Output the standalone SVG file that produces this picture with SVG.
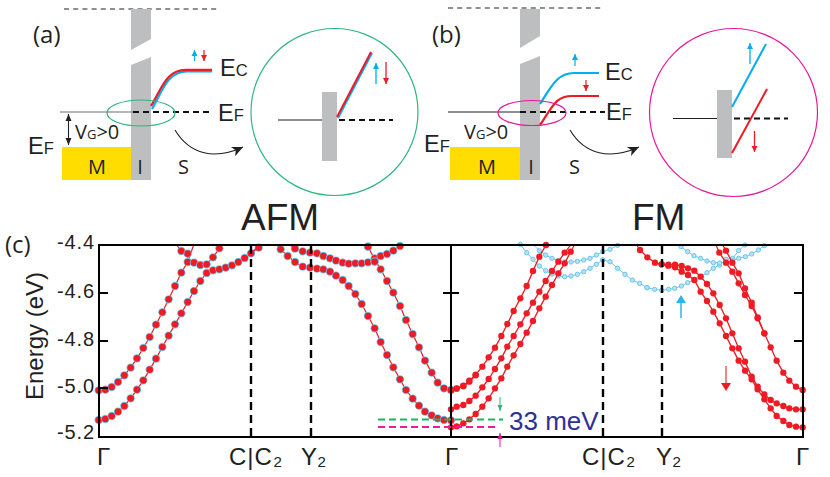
<svg xmlns="http://www.w3.org/2000/svg" width="830" height="477" viewBox="0 0 830 477">
<style>
text{font-family:"Liberation Sans",Arial,sans-serif;fill:#231f20}
.op{font-family:"Open Sans","Liberation Sans",sans-serif}
.lab{font-size:23.500px}
.sm{font-size:16.500px}
.bar{fill:#bcbec0}
.gold{fill:#ffdd00}
.thin{stroke:#231f20;stroke-width:1.100;fill:none}
.dash{stroke:#111;stroke-width:2;stroke-dasharray:6 4;fill:none}
.top{stroke:#231f20;stroke-width:1.100;stroke-dasharray:5 4.200;fill:none}
.blue{stroke:#00aeef;fill:none}
.red{stroke:#ed1c24;fill:none}
.g{stroke:#2fb67c;fill:none;stroke-width:1.200}
.m{stroke:#e6189b;fill:none;stroke-width:1.200}
.afm{fill:none;stroke:#ed1c24;stroke-width:3.600;marker-start:url(#da);marker-mid:url(#da);marker-end:url(#da)}
.fmr{fill:none;stroke:#ed1c24;stroke-width:4;marker-start:url(#dr);marker-mid:url(#dr);marker-end:url(#dr)}
.fmb{fill:none;stroke:#6cc5ec;stroke-width:3;marker-start:url(#db);marker-mid:url(#db);marker-end:url(#db)}
.ln{fill:none;stroke:#ed1c24;stroke-width:3.600}
.tick{font-size:20px;text-anchor:end;letter-spacing:.9px}
.kp{font-size:24px}
.frame{fill:none;stroke:#000;stroke-width:2}
.vd{stroke:#000;stroke-width:2.400;stroke-dasharray:8 5;fill:none}
</style>
<defs>
<marker id="da" markerUnits="userSpaceOnUse" markerWidth="30" markerHeight="30" refX="15" refY="15"><circle cx="15" cy="15" r="12.500" fill="#6cc5ec"/><circle cx="15" cy="15" r="10" fill="#ed1c24"/></marker>
<marker id="dr" markerUnits="userSpaceOnUse" markerWidth="30" markerHeight="30" refX="15" refY="15"><circle cx="15" cy="15" r="9.500" fill="#ed1c24"/></marker>
<marker id="db" markerUnits="userSpaceOnUse" markerWidth="30" markerHeight="30" refX="15" refY="15"><circle cx="15" cy="15" r="6.500" fill="#b5e2f5" stroke="#6cc5ec" stroke-width="3"/></marker>
<marker id="ac" markerUnits="userSpaceOnUse" markerWidth="10" markerHeight="10" refX="6" refY="3" orient="auto" overflow="visible"><path d="M0,0L6,3L0,6z" fill="#00aeef"/></marker>
<marker id="ar" markerUnits="userSpaceOnUse" markerWidth="10" markerHeight="10" refX="6" refY="3" orient="auto" overflow="visible"><path d="M0,0L6,3L0,6z" fill="#ed1c24"/></marker>
<marker id="ag" markerUnits="userSpaceOnUse" markerWidth="10" markerHeight="10" refX="6" refY="2.500" orient="auto" overflow="visible"><path d="M0,0L6,2.500L0,5z" fill="#2fb67c"/></marker>
<marker id="am" markerUnits="userSpaceOnUse" markerWidth="10" markerHeight="10" refX="6" refY="2.500" orient="auto" overflow="visible"><path d="M0,0L6,2.500L0,5z" fill="#e6189b"/></marker>
<marker id="ak" markerUnits="userSpaceOnUse" markerWidth="12" markerHeight="12" refX="7" refY="3" orient="auto" overflow="visible"><path d="M0,0L7,3L0,6z" fill="#231f20"/></marker>
<marker id="ak2" markerUnits="userSpaceOnUse" markerWidth="12" markerHeight="12" refX="0" refY="3" orient="auto" overflow="visible"><path d="M7,0L0,3L7,6z" fill="#231f20"/></marker>
<marker id="ah" markerUnits="userSpaceOnUse" markerWidth="14" markerHeight="14" refX="11" refY="5" orient="auto" overflow="visible"><path d="M0,0L11,5L0,10L3,5z" fill="#231f20"/></marker>
</defs>

<g id="panel-a">
<path class="top" d="M64,9H218"/>
<path class="bar" d="M131,9H151V39L131,50zM131,65L151,57V180H131z"/>
<rect class="gold" x="62" y="147" width="69" height="33"/>
<path d="M60,112H133" stroke="#6d6e71" stroke-width="1.200" fill="none"/>
<path class="dash" d="M133,112H213"/>
<path d="M68.500,114V145" class="thin" marker-start="url(#ak2)" marker-end="url(#ak)"/>
<path class="blue" stroke-width="2.200" d="M152,109C163,90 167,72 187,71.500H212"/>
<path class="red" stroke-width="2.200" d="M151,106C162,88 166,70 186,69.800H212"/>
<path class="blue" stroke-width="1.200" d="M194.500,61V50" marker-end="url(#ac)"/>
<path class="red" stroke-width="1.200" d="M204,50V61" marker-end="url(#ar)"/>
<ellipse class="g" cx="141" cy="113" rx="34" ry="13"/>
<path class="thin" d="M175,130C190,155 215,160 243,147" marker-end="url(#ah)"/>
<text class="op" x="33" y="43" font-size="24">(a)</text>
<text class="lab" x="220" y="76">E<tspan class="sm">C</tspan></text>
<text class="lab" x="218" y="121">E<tspan class="sm">F</tspan></text>
<text class="lab" x="28" y="154">E<tspan class="sm">F</tspan></text>
<text class="op" x="75" y="139" font-size="20">V<tspan font-size="13">G</tspan>&gt;0</text>
<text class="op" x="88" y="174" font-size="20">M</text>
<text class="op" x="140" y="174" font-size="20" text-anchor="middle">I</text>
<text class="op" x="178" y="174" font-size="20">S</text>
</g>
<g id="inset-a">
<circle class="g" cx="334.500" cy="112" r="83.500"/>
<rect class="bar" x="322" y="92" width="15" height="69"/>
<path class="thin" d="M278,120H322"/>
<path class="dash" d="M339,120H393"/>
<path class="blue" stroke-width="2" d="M338,118L372,53"/>
<path class="red" stroke-width="2" d="M337,117L371,52"/>
<path class="blue" stroke-width="1.300" d="M376,84V63" marker-end="url(#ac)"/>
<path class="red" stroke-width="1.300" d="M386,62V84" marker-end="url(#ar)"/>
</g>

<g id="panel-b">
<path class="top" d="M448,8H603"/>
<path class="bar" d="M520,9H540V36L520,48zM520,64L540,56V180H520z"/>
<rect class="gold" x="450" y="147" width="70" height="33"/>
<path class="thin" d="M448,112H520"/>
<path class="dash" d="M520,112H605"/>
<path class="blue" stroke-width="2.200" d="M540,104C552,85 558,73 574,73H599"/>
<path class="red" stroke-width="2.200" d="M540,125C552,108 555,96 572,96H599"/>
<path class="blue" stroke-width="1.200" d="M575,66V54" marker-end="url(#ac)"/>
<path class="red" stroke-width="1.200" d="M586,80V91" marker-end="url(#ar)"/>
<ellipse class="m" cx="532" cy="113" rx="34" ry="12.500"/>
<path class="thin" d="M570,130C585,155 610,160 639,147" marker-end="url(#ah)"/>
<text class="op" x="432" y="43" font-size="24">(b)</text>
<text class="lab" x="605" y="80">E<tspan class="sm">C</tspan></text>
<text class="lab" x="606" y="120">E<tspan class="sm">F</tspan></text>
<text class="lab" x="424" y="152">E<tspan class="sm">F</tspan></text>
<text class="op" x="464" y="139" font-size="20">V<tspan font-size="13">G</tspan>&gt;0</text>
<text class="op" x="478" y="174" font-size="20">M</text>
<text class="op" x="531" y="174" font-size="20" text-anchor="middle">I</text>
<text class="op" x="569" y="174" font-size="20">S</text>
</g>
<g id="inset-b">
<circle class="m" cx="733.500" cy="112.500" r="84"/>
<rect class="bar" x="717" y="90" width="15" height="68"/>
<path class="thin" d="M673,118.500H717"/>
<path class="dash" d="M734,118.500H788"/>
<path class="blue" stroke-width="2" d="M732,107L766,44"/>
<path class="red" stroke-width="2" d="M732,153L767,89"/>
<path class="blue" stroke-width="1.300" d="M750,64V43" marker-end="url(#ac)"/>
<path class="red" stroke-width="1.300" d="M754.500,131V152" marker-end="url(#ar)"/>
</g>

<g id="titles">
<text x="241" y="230" font-size="37">AFM</text>
<text x="632" y="230" font-size="37">FM</text>
<text class="op" x="5" y="253" font-size="24">(c)</text>
</g>

<g id="afm-bands">
<g transform="translate(0,200) scale(.33333)">
<polyline class="ln" points="530,135 544,153"/>
<polyline class="ln" points="563,161 563,186 581,135"/>
<polyline class="afm" points="296,571 316,569 335,561 354,546 373,526 392,503 411,475 430,444 449,411 468,374 487,337 506,298 525,258 544,218 563,186 582,188 601,195 620,193 639,172 658,145"/>
<polyline class="afm" points="296,660 316,657 335,648 354,635 373,618 392,595 411,569 430,541 449,509 468,476 487,441 506,407 525,373 544,340 563,306 582,273 601,243 620,219 639,211 658,208 677,203 696,196 715,186 734,174 753,160 776,143"/>
<polyline class="afm" points="544,153 563,161"/>
</g>
<g transform="translate(250,230) scale(.33333)">
<polyline class="ln" points="26,50 0,70"/>
<polyline class="ln" points="80,45 92,58"/>
<polyline class="ln" points="120,45 135,56"/>
<polyline class="ln" points="354,50 374,88 392,118"/>
<polyline class="afm" points="92,58 113,78 135,96 158,110 180,113 201,116 220,118 240,125 258,137 278,150 296,168 316,192 335,222 354,258 374,295 392,336 411,375 430,412 450,448 468,480 488,506 507,527 525,545 545,556 563,565 582,570 603,571"/>
<polyline class="afm" points="135,56 158,64 180,68 201,70 220,78 240,85 258,92 278,98 296,101 316,100 335,100 354,97 374,85 392,78 411,72 430,62 450,48"/>
<polyline class="afm" points="392,118 411,153 430,188 450,228 468,270 488,312 507,352 525,392 545,428 563,458 582,475 603,480"/>
<polyline class="afm" points="354,50 354,50"/>
<polyline class="afm" points="374,95 374,95"/>
</g>
</g>

<g id="fm-bands">
<g transform="translate(440,230) scale(.33333)">
<polyline class="fmb" points="241,43 260,68 279,88 298,108 317,122 336,132 355,138 374,140 393,138 412,133 431,125 450,115 469,103 488,90"/>
<polyline class="fmb" points="298,62 317,75 336,85 355,92 374,96 393,96 412,94 431,90 450,85 469,75 488,65 510,58 533,46"/>
<polyline class="fmb" points="488,90 510,95 533,115 555,133 577,150 599,160 621,173"/>
<polyline points="281,45 298,62" fill="none" stroke="#6cc5ec" stroke-width="3"/>
<polyline class="fmr" points="33,480 50,475 70,467 88,452 107,434 127,410 146,382 165,353 184,318 202,282 221,243 241,205 260,168 279,123 298,80 318,45"/>
<polyline class="fmr" points="33,480 50,476 70,469 88,455 107,436"/>
<polyline class="fmr" points="33,538 50,530 70,525 88,513 107,497 127,472 146,447 165,417 184,385 202,350 221,318 241,283 260,250 279,218 298,185 317,153 336,123 355,95 374,68"/>
<polyline class="ln" points="374,68 392,45"/>
<polyline class="fmr" points="33,592 50,589 70,580 88,568 107,552 127,530 146,505 165,475 184,445 202,410 221,376 241,342 260,308 279,273 298,235 317,200 336,165 355,130 374,100 392,65"/>
<polyline class="ln" points="392,65 403,45"/>
</g>
<g transform="translate(600,230) scale(.33333)">
<polyline class="fmb" points="141,173 164,178 185,181 206,178 224,175 244,168 263,158 283,150 302,140 321,128 340,115 359,105 378,88 398,85 416,62 435,45"/>
<polyline class="fmb" points="243,50 263,65 282,77 302,85 321,93 340,98 359,99 378,97 397,92 416,85 436,80 455,72 475,60 493,47"/>
<polyline class="ln" points="110,45 120,60"/>
<polyline class="fmr" points="120,60 142,82 165,98 185,103 205,104 225,104 245,108 264,115 283,122 302,140 321,162 340,190 359,225 378,265 397,310 416,355 435,395 455,440 473,470 493,493 512,510 530,520 550,528 568,535 588,538 608,538"/>
<polyline class="fmr" points="185,103 205,107 225,112 245,125 264,135 283,150 302,185 321,213 340,245 359,280 378,318 397,355 416,392 435,422 455,448 473,478 493,508 512,535 530,558 550,573 568,585 588,590 608,592"/>
<polyline class="ln" points="348,45 358,68"/>
<polyline class="fmr" points="358,68 378,98 397,125 416,160 435,195 455,228 473,265 493,310 512,352 530,392 550,428 568,452 588,470 608,480"/>
<polyline class="ln" points="368,45 378,62"/>
<polyline class="fmr" points="378,62 397,98 416,130 435,175 455,218 473,262 493,310"/>
</g>
</g>

<g id="frame">
<path class="vd" d="M251,246V437M311,246V437M603,246V437M662,246V437"/>
<rect class="frame" x="99" y="245" width="704" height="192"/>
<path class="frame" d="M451,245V437M99,293H108M99,341H108M99,388H108M443,293H459M443,341H459M794,293H803M794,341H803"/>
</g>

<g id="gap-marks">
<path d="M378,419.500H503" stroke="#1fb35f" stroke-width="2.200" stroke-dasharray="7 4" fill="none"/>
<path d="M378,427H495" stroke="#ec1c9c" stroke-width="2.200" stroke-dasharray="7 4" fill="none"/>
<path d="M500,397V411" stroke="#2fb67c" stroke-width="1" marker-end="url(#ag)" fill="none"/>
<path d="M500,447V433" stroke="#e6189b" stroke-width="1" marker-end="url(#am)" fill="none"/>
<text x="509" y="430" font-size="26" style="fill:#2e3192">33 meV</text>
</g>

<g id="spin-arrows">
<path d="M681,318V300" stroke="#29b6ee" stroke-width="1.500" fill="none"/>
<path d="M676,303L681,295L686,303z" fill="#29b6ee"/>
<path d="M726,366V385" stroke="#ef5a63" stroke-width="1.500" fill="none"/>
<path d="M721,383L726,391L731,383z" fill="#ed1c24"/>
</g>

<g id="axis-labels">
<text class="tick" x="95" y="249">-4.4</text>
<text class="tick" x="95" y="298">-4.6</text>
<text class="tick" x="95" y="346">-4.8</text>
<text class="tick" x="95" y="393">-5.0</text>
<text class="tick" x="95" y="439">-5.2</text>
<text transform="translate(43,400) rotate(-90)" font-size="24">Energy (eV)</text>
<text class="kp" x="97" y="465">Γ</text>
<text class="kp" x="229" y="465" letter-spacing="1">C|C₂</text>
<text class="kp" x="301" y="465">Y₂</text>
<text class="kp" x="445" y="465">Γ</text>
<text class="kp" x="582" y="465" letter-spacing="1">C|C₂</text>
<text class="kp" x="656" y="465">Y₂</text>
<text class="kp" x="796" y="465">Γ</text>
</g>
</svg>
